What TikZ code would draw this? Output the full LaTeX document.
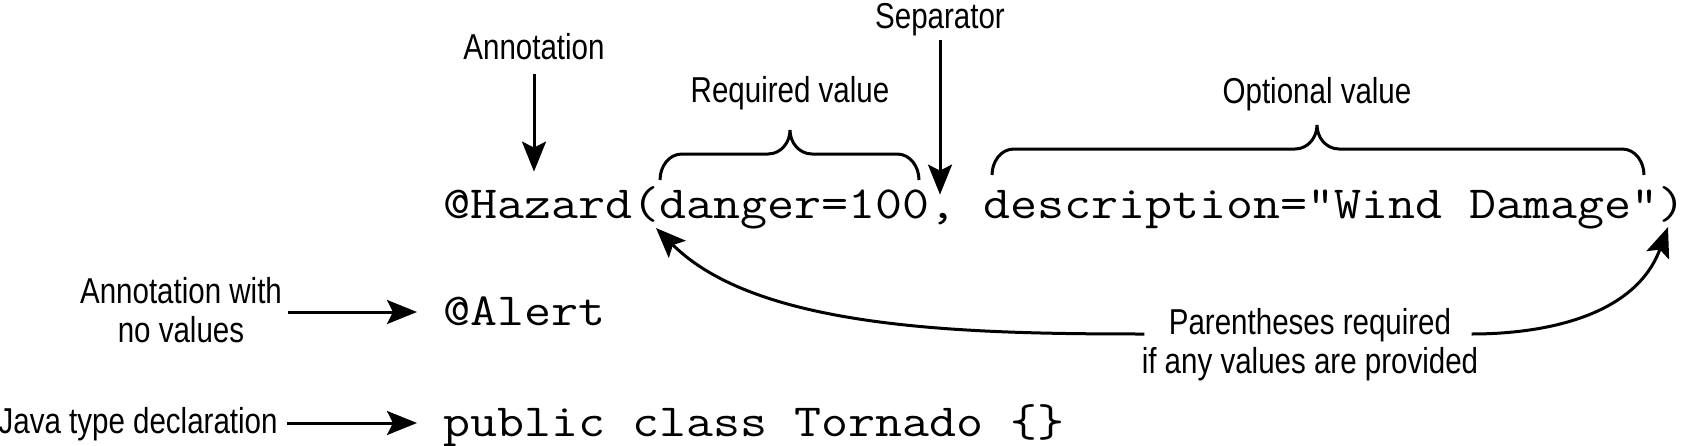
\documentclass[tikz,border=0pt]{standalone}
\usepackage{fontspec}
\usetikzlibrary{arrows.meta}
\newfontfamily\lblfont{Liberation Sans}[FakeStretch=0.82]
\newfontfamily\codefont{Latin Modern Mono}[FakeStretch=1.14]

\begin{document}
\begin{tikzpicture}[x=0.5pt,y=-0.5pt,
    lbl/.style={font=\lblfont\fontsize{18}{19.5}\selectfont,inner sep=0pt},
    code/.style={font=\codefont\fontsize{23}{26}\selectfont,inner sep=0pt,
      text height=13pt,text depth=0pt,anchor=base west},
    arr/.style={line width=1.5pt,-{Stealth[length=15pt,width=12pt,inset=3pt]}},
    brc/.style={line width=1.5pt}]
  \useasboundingbox (0,0) rectangle (1683,445);
  % code lines
  \node[code] (hazard) at (443,218) {@Hazard(danger=100, description="Wind Damage")};
  \node[code] (alert) at (443,325) {@Alert};
  \node[code] (cls) at (443,436) {public class Tornado \{\}};
  % labels
  \node[lbl,anchor=base] (annot) at (534,59) {Annotation};
  \node[lbl,anchor=base] (sep) at (940,28) {Separator};
  \node[lbl,anchor=base] (reqv) at (790,102) {Required value};
  \node[lbl,anchor=base] (optv) at (1317,103) {Optional value};
  \node[lbl,align=center] (lblalert) at (181,310) {Annotation with\\no values};
  \node[lbl,anchor=base east] (lbljava) at (278,433) {Java type declaration};
  \node[lbl,anchor=base] (pr1) at (1310,334) {Parentheses required};
  \node[lbl,anchor=base] (pr2) at (1310,373) {if any values are provided};
  % braces
  \coordinate (reqL) at (660,180);
  \coordinate (reqR) at (919,180);
  \coordinate (optL) at (992,175);
  \coordinate (optR) at (1644,175);
  \draw[brc] (reqL) to[out=90,in=180] (682,154) -- (768,154) to[out=0,in=-90] (790,130)
    to[out=-90,in=180] (812,154) -- (897,154) to[out=0,in=90] (reqR);
  \draw[brc] (optL) to[out=90,in=180] (1014,149) -- (1295,149) to[out=0,in=-90] (1317,125)
    to[out=-90,in=180] (1339,149) -- (1622,149) to[out=0,in=90] (optR);
  % arrows
  \draw[arr,shorten <=7pt,shorten >=10pt] (annot.south) -- (annot.south |- hazard.north);
  \draw[arr,shorten <=2pt,shorten >=-1.5pt] (sep.south) -- (sep.south |- hazard.north);
  \draw[arr,shorten <=3pt,shorten >=13pt] (lblalert.east |- alert.west) -- (alert.west);
  \draw[arr,shorten <=4.5pt,shorten >=13pt] (lbljava.east |- cls.west) -- (cls.west);
  \coordinate (lpar) at (656,228);
  \coordinate (rpar) at (1668,227);
  \draw[arr,shorten <=12pt] (pr1.base west) to[out=180,in=-45,in looseness=0.7] (lpar);
  \draw[arr,shorten <=10pt] (pr1.base east) to[out=0,in=-110] (rpar);
\end{tikzpicture}
\end{document}
